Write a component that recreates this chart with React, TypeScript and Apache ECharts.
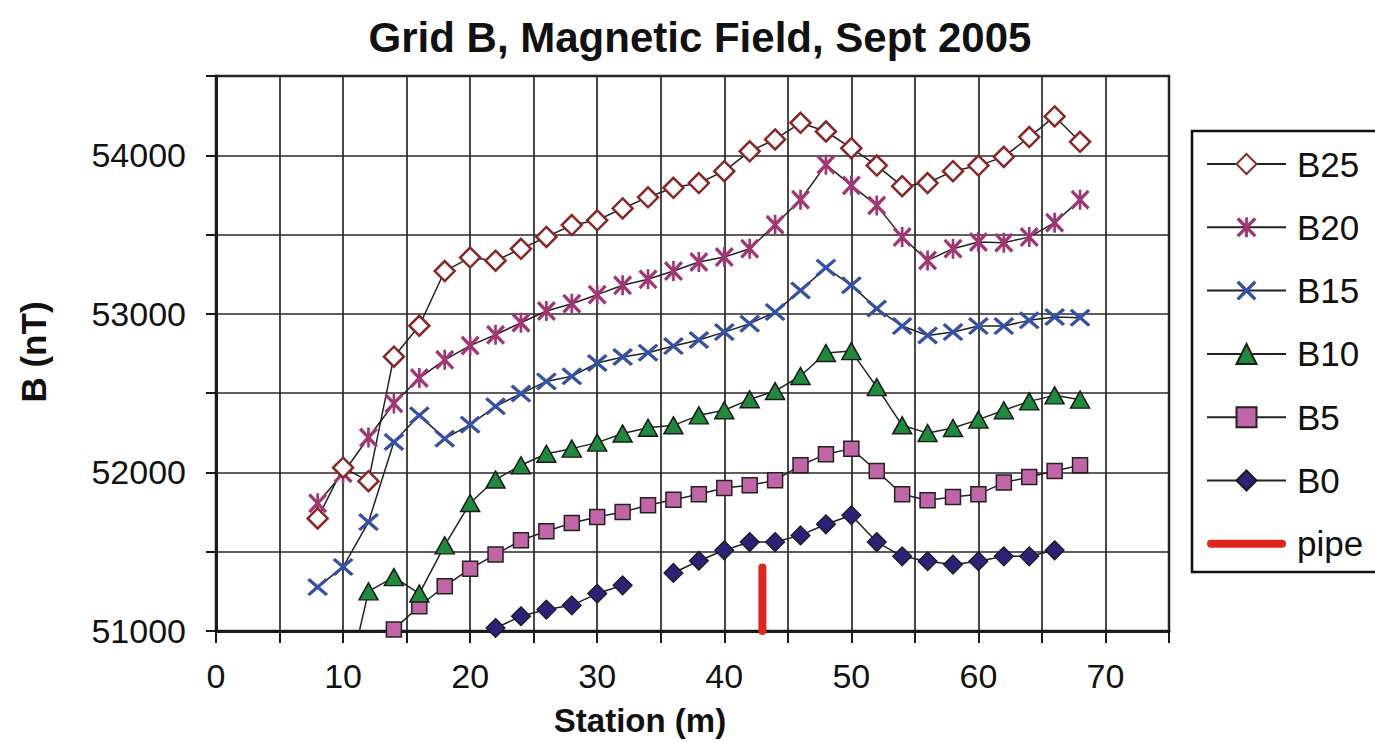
import React, { useEffect, useRef } from 'react';
import * as echarts from 'echarts';

const FONT = "'Liberation Sans', Arial, Helvetica, sans-serif";

const stations = [8, 10, 12, 14, 16, 18, 20, 22, 24, 26, 28, 30, 32, 34, 36, 38, 40, 42, 44, 46, 48, 50, 52, 54, 56, 58, 60, 62, 64, 66, 68];

const b25 = [51710, 52030, 51945, 52730, 52925, 53270, 53355, 53335, 53410, 53485, 53560, 53590, 53665, 53735, 53795, 53825, 53900, 54025, 54100, 54205, 54150, 54045, 53935, 53805, 53825, 53900, 53935, 53990, 54115, 54245, 54085];
const b20 = [51805, 51995, 52220, 52435, 52595, 52710, 52800, 52868, 52944, 53018, 53064, 53121, 53180, 53218, 53270, 53327, 53358, 53411, 53562, 53720, 53941, 53810, 53684, 53484, 53337, 53411, 53453, 53449, 53484, 53575, 53720];
const b15 = [51277, 51404, 51687, 52192, 52360, 52213, 52301, 52417, 52497, 52574, 52606, 52690, 52728, 52755, 52797, 52835, 52885, 52938, 53011, 53148, 53291, 53180, 53033, 52923, 52864, 52885, 52923, 52923, 52959, 52980, 52976];
const b10 = [null, 50550, 51250, 51340, 51236, 51540, 51807, 51955, 52045, 52118, 52150, 52188, 52245, 52282, 52297, 52360, 52392, 52461, 52513, 52608, 52753, 52765, 52538, 52297, 52248, 52280, 52333, 52392, 52448, 52486, 52459];
const b5 = [null, null, null, 51010, 51156, 51282, 51393, 51482, 51572, 51629, 51681, 51719, 51750, 51793, 51828, 51862, 51902, 51919, 51950, 52045, 52114, 52150, 52009, 51862, 51824, 51845, 51862, 51936, 51971, 52009, 52045];
const b0 = [null, null, null, null, null, null, null, 51019, 51093, 51135, 51162, 51236, 51288, null, 51366, 51443, 51509, 51561, 51561, 51603, 51673, 51730, 51561, 51471, 51440, 51419, 51440, 51471, 51471, 51509, null];

const pipeStation = 43;
const pipeSpan = [51000, 51400];

const legendOrder = ['B25', 'B20', 'B15', 'B10', 'B5', 'B0', 'pipe'];

const X_PATH = 'path://M12,0 L50,38 L88,0 L100,12 L62,50 L100,88 L88,100 L50,62 L12,100 L0,88 L38,50 L0,12 Z';
const STAR_PATH = 'path://M12,0 L50,38 L88,0 L100,12 L62,50 L100,88 L88,100 L50,62 L12,100 L0,88 L38,50 L0,12 Z M43,0 L57,0 L57,100 L43,100 Z';
const PIPE_ICON = 'path://M4,0 L76,0 A4,4 0 0 1 76,8 L4,8 A4,4 0 0 1 4,0 Z';

function pairs(vals: (number | null)[]) {
  return stations.map((s, i) => [s, vals[i] === null ? '-' : vals[i]]);
}

const LINE = { color: '#222', width: 1.5 };

function buildOption() {
  const series: any[] = [
    {
      name: 'B0', type: 'line', data: pairs(b0), symbol: 'diamond', symbolSize: 19,
      itemStyle: { color: '#2b2176', borderColor: '#1a1a1a', borderWidth: 1.2 }, lineStyle: LINE,
    },
    {
      name: 'B5', type: 'line', data: pairs(b5), symbol: 'rect', symbolSize: 15,
      itemStyle: { color: '#c264a8', borderColor: '#222', borderWidth: 1.5 }, lineStyle: LINE,
    },
    {
      name: 'B10', type: 'line', data: pairs(b10), symbol: 'triangle', symbolSize: [19, 17],
      itemStyle: { color: '#1e8a3c', borderColor: '#1a1a1a', borderWidth: 1.5 }, lineStyle: LINE,
    },
    {
      name: 'B15', type: 'line', data: pairs(b15), symbol: X_PATH, symbolSize: [21, 18],
      itemStyle: { color: '#3451a3' }, lineStyle: LINE,
    },
    {
      name: 'B20', type: 'line', data: pairs(b20), symbol: STAR_PATH, symbolSize: [19, 20],
      itemStyle: { color: '#a33572' }, lineStyle: LINE,
    },
    {
      name: 'B25', type: 'line', data: pairs(b25), symbol: 'diamond', symbolSize: 20,
      itemStyle: { color: '#ffffff', borderColor: '#8a2626', borderWidth: 2.5 }, lineStyle: LINE,
    },
    {
      name: 'pipe', type: 'line', data: pipeSpan.map((v) => [pipeStation, v]), symbol: 'none', clip: false,
      itemStyle: { color: '#e0261d' }, lineStyle: { color: '#e0261d', width: 8, cap: 'round' },
    },
  ];

  return {
    animation: false,
    backgroundColor: '#ffffff',
    textStyle: { fontFamily: FONT },
    grid: {
      left: 216, top: 76, width: 953, height: 555,
      show: true, borderColor: '#222', borderWidth: 2.5, backgroundColor: '#fff',
      containLabel: false, outerBoundsMode: 'none',
    },
    xAxis: {
      type: 'value', min: 0, max: 75, interval: 5,
      axisLine: { show: true, onZero: false, lineStyle: { color: '#1a1a1a', width: 3 } },
      axisTick: { show: true, length: 12, lineStyle: { color: '#1a1a1a', width: 2 } },
      splitLine: { show: true, lineStyle: { color: '#2a2626', width: 1.7 } },
      axisLabel: {
        margin: 28, fontSize: 34, color: '#111', fontFamily: FONT,
        formatter: (v: number) => (v % 10 === 0 ? String(v) : ''),
      },
    },
    yAxis: {
      type: 'value', min: 51000, max: 54500, interval: 500,
      axisLine: { show: true, onZero: false, lineStyle: { color: '#1a1a1a', width: 3 } },
      axisTick: { show: true, length: 10, lineStyle: { color: '#1a1a1a', width: 2 } },
      splitLine: { show: true, lineStyle: { color: '#2a2626', width: 1.7 } },
      axisLabel: {
        margin: 30, fontSize: 34, color: '#111', fontFamily: FONT,
        formatter: (v: number) => (v % 1000 === 0 ? String(v) : ''),
      },
    },
    legend: {
      orient: 'vertical', left: 1206, top: 144, padding: 0,
      itemWidth: 79, itemHeight: 25, itemGap: 23.3,
      textStyle: { fontSize: 35, color: '#111', fontFamily: FONT, lineHeight: 40, padding: [0, 0, 0, 6] },
      data: legendOrder.map((n) => (n === 'pipe' ? { name: n, icon: PIPE_ICON } : { name: n })),
      selectedMode: false,
    },
    graphic: [
      {
        type: 'rect', z: -1, silent: true,
        shape: { x: 1192, y: 131, width: 200, height: 441 },
        style: { fill: '#fff', stroke: '#111', lineWidth: 2.5 },
      },
      {
        type: 'text', x: 700, y: 37, silent: true,
        style: {
          text: 'Grid B, Magnetic Field, Sept 2005', align: 'center', verticalAlign: 'middle',
          fontSize: 42, fontWeight: 'bold', fontFamily: FONT, fill: '#111',
        },
      },
      {
        type: 'text', x: 640, y: 720, silent: true,
        style: {
          text: 'Station (m)', align: 'center', verticalAlign: 'middle',
          fontSize: 33, fontWeight: 'bold', fontFamily: FONT, fill: '#111',
        },
      },
      {
        type: 'text', x: 33, y: 352, rotation: Math.PI / 2, silent: true,
        style: {
          text: 'B (nT)', align: 'center', verticalAlign: 'middle',
          fontSize: 35, fontWeight: 'bold', fontFamily: FONT, fill: '#111',
        },
      },
    ],
    series,
  };
}

export default function App() {
  const ref = useRef<HTMLDivElement>(null);
  useEffect(() => {
    if (!ref.current) return;
    const chart = echarts.init(ref.current, null, { renderer: 'svg' });
    chart.setOption(buildOption() as any);
    return () => chart.dispose();
  }, []);
  return (
    <div
      ref={ref}
      style={{ position: 'fixed', left: 0, top: 0, width: 1375, height: 742, background: '#fff' }}
    />
  );
}
